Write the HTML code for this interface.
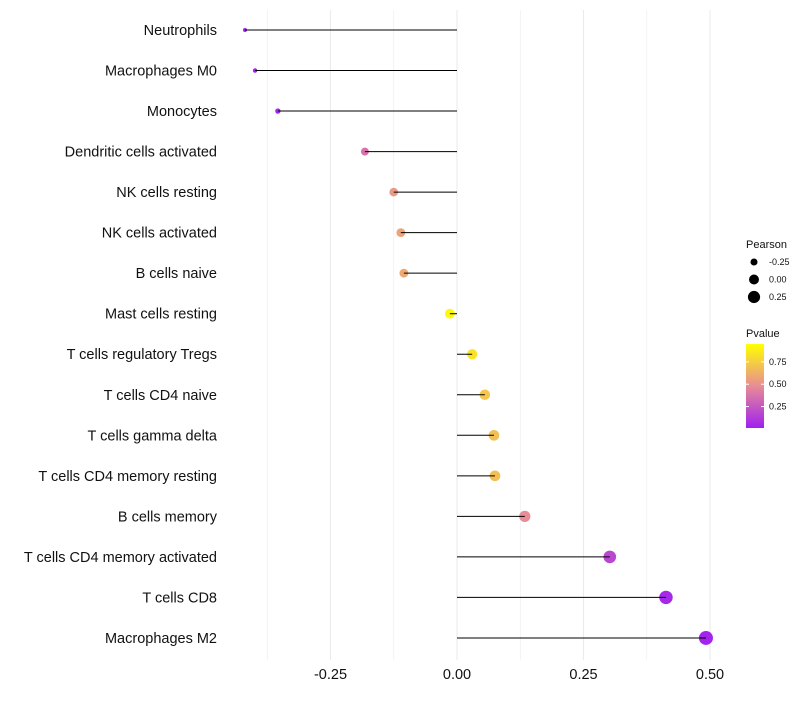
<!DOCTYPE html>
<html><head><meta charset="utf-8"><style>
body{margin:0;background:#fff;font-family:"Liberation Sans",sans-serif}
</style></head><body>
<svg id="chart" width="800" height="700" xmlns="http://www.w3.org/2000/svg" font-family="Liberation Sans, sans-serif"></svg>
<script>
const categories=["Neutrophils","Macrophages M0","Monocytes","Dendritic cells activated","NK cells resting","NK cells activated","B cells naive","Mast cells resting","T cells regulatory  Tregs ","T cells CD4 naive","T cells gamma delta","T cells CD4 memory resting","B cells memory","T cells CD4 memory activated","T cells CD8","Macrophages M2"];
const pearson=[-0.419,-0.399,-0.354,-0.182,-0.125,-0.111,-0.105,-0.014,0.030,0.055,0.073,0.075,0.134,0.302,0.413,0.492];
const pvalue=[0.01,0.01,0.04,0.38,0.55,0.6,0.62,0.97,0.88,0.75,0.72,0.72,0.5,0.18,0.04,0.02];
const xTicks=[-0.25,0,0.25,0.5];
const xTickLabels=["-0.25","0.00","0.25","0.50"];
const xMinor=[-0.375,-0.125,0.125,0.375];
const sizeLegend=[-0.25,0,0.25];
const sizeLegendLabels=["-0.25","0.00","0.25"];
const colorLegend=[0.25,0.5,0.75];
const colorLegendLabels=["0.25","0.50","0.75"];

const NS="http://www.w3.org/2000/svg";
const svg=document.getElementById('chart');
function mk(t,a,p){const e=document.createElementNS(NS,t);for(const k in a)e.setAttribute(k,a[k]);(p||svg).appendChild(e);return e;}
const x=v=>457+v*506;
const y=i=>30+i*40.53;
const r=v=>Math.sqrt(Math.max(1,24.8+49.45*v));
function lerp(a,b,t){return a.map((c,i)=>Math.round(c+(b[i]-c)*t));}
function col(p){const s=[[160,32,240],[232,140,150],[255,255,0]];
 let t=Math.min(1,Math.max(0,p));let c=t<0.5?lerp(s[0],s[1],t/0.5):lerp(s[1],s[2],(t-0.5)/0.5);return 'rgb('+c.join(',')+')';}

[...xTicks,...xMinor].forEach(v=>{const g=mk('line',{x1:x(v),x2:x(v),y1:10,y2:660,stroke:'#ebebeb','stroke-width':xMinor.includes(v)?0.6:1.1});

});
xTicks.forEach((v,i)=>{const t=mk('text',{x:x(v),y:679,'text-anchor':'middle','font-size':14.5,fill:'#111'});t.textContent=xTickLabels[i];

});
categories.forEach((c,i)=>{
 const t=mk('text',{x:217,y:y(i)+5,'text-anchor':'end','font-size':14.5,fill:'#111'});t.textContent=c;
 
 
 const d=mk('circle',{cx:x(pearson[i]),cy:y(i),r:r(pearson[i]),fill:col(pvalue[i])});
 
 
 const l=mk('line',{x1:x(0),x2:x(pearson[i]),y1:y(i),y2:y(i),stroke:'#000','stroke-width':1});
 
 
});
const lt=mk('text',{x:746,y:248,'font-size':11,fill:'#111'});lt.textContent='Pearson';


sizeLegend.forEach((v,i)=>{const cy=262+i*17.5;
 const c=mk('circle',{cx:754,cy:cy,r:r(v),fill:'#000'});
 
 
 const t=mk('text',{x:769,y:cy+3,'font-size':9,fill:'#111'});t.textContent=sizeLegendLabels[i];
 
 });
const pt=mk('text',{x:746,y:337,'font-size':11,fill:'#111'});pt.textContent='Pvalue';


const defs=mk('defs',{});const gr=mk('linearGradient',{id:'pg',x1:0,y1:1,x2:0,y2:0},defs);
[0,0.5,1].forEach(o=>mk('stop',{offset:o,'stop-color':col(o)},gr));
const cbTop=344,cbBot=428,pmin=0.01,pmax=0.95;
const py=p=>cbBot-(p-pmin)/(pmax-pmin)*(cbBot-cbTop);
const cb=mk('rect',{x:746,y:cbTop,width:18,height:cbBot-cbTop,fill:'url(#pg)'});


colorLegend.forEach((v,i)=>{const t=mk('text',{x:769,y:py(v)+3,'font-size':9,fill:'#111'});t.textContent=colorLegendLabels[i];
 
 
 mk('line',{x1:746,x2:749,y1:py(v),y2:py(v),stroke:'#fff'});mk('line',{x1:761,x2:764,y1:py(v),y2:py(v),stroke:'#fff'});});
</script>
</body></html>
